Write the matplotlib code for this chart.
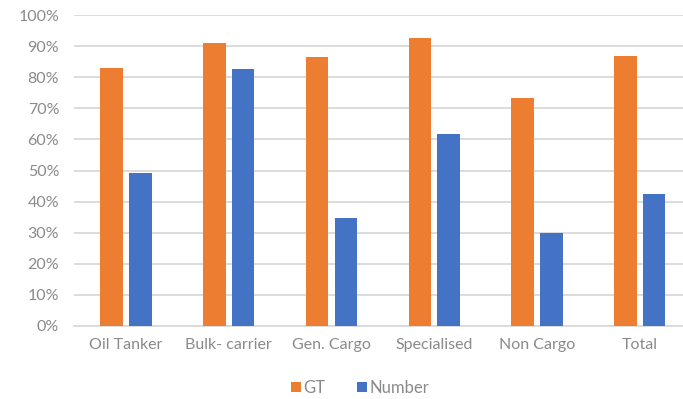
import matplotlib
matplotlib.use('Agg')
import matplotlib.pyplot as plt
import numpy as np
from matplotlib.ticker import PercentFormatter

categories = ['Oil Tanker', 'Bulk- carrier', 'Gen. Cargo', 'Specialised', 'Non Cargo', 'Total']
gt = [82.9, 91.0, 86.6, 92.5, 73.4, 86.8]
number = [49.3, 82.6, 34.6, 61.8, 29.8, 42.5]

plt.rcParams['font.family'] = ['Lato', 'DejaVu Sans']

fig = plt.figure(figsize=(6.83, 3.99), dpi=100)
ax = fig.add_axes([0.109, 0.183, 0.903, 0.779])

index = np.arange(len(categories))
w = 0.22
ax.bar(index - 0.14, gt, width=w, color='#ED7D31', label='GT', zorder=3)
ax.bar(index + 0.14, number, width=w, color='#4472C4', label='Number', zorder=3)

ax.set_xlim(-0.5, len(categories) - 0.5)
ax.set_ylim(0, 100)
ax.set_yticks(np.arange(0, 101, 10))
ax.yaxis.set_major_formatter(PercentFormatter(decimals=0))
ax.set_xticks(index)
ax.set_xticklabels(categories)

ax.grid(axis='y', color='#d9d9d9', linewidth=1.3, zorder=0)
for s in ['top', 'right', 'left']:
    ax.spines[s].set_visible(False)
ax.spines['bottom'].set_color('#d9d9d9')
ax.spines['bottom'].set_linewidth(1.3)
ax.tick_params(axis='both', length=0, colors='#8a8a8a', labelsize=11.5)
ax.tick_params(axis='y', pad=11)
ax.tick_params(axis='x', pad=9)

fig.legend(loc='center', bbox_to_anchor=(0.527, 0.028), ncol=2, frameon=False,
           fontsize=12, labelcolor='#8a8a8a', handlelength=0.6, handleheight=0.6,
           handletextpad=0.15, columnspacing=1.9)

plt.savefig('out.png', dpi=100)
